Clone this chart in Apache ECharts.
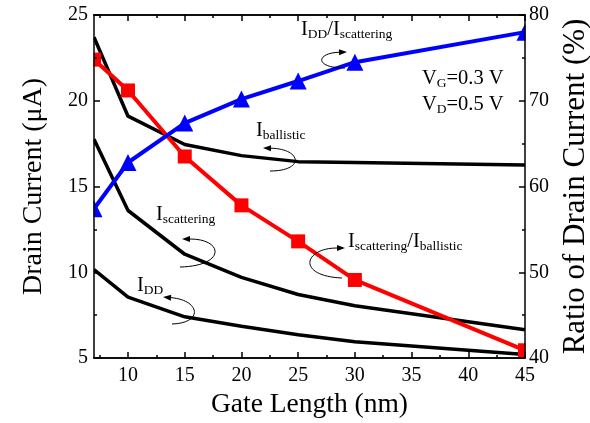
<!DOCTYPE html>
<html>
<head>
<meta charset="utf-8">
<script src="https://cdn.jsdelivr.net/npm/echarts@6/dist/echarts.min.js"></script>
<style>
  html, body { margin: 0; padding: 0; background: #fff; }
  #chart { width: 590px; height: 423px; }
</style>
</head>
<body>
<div id="chart"></div>
<script>
  // 数据
  var gateLength = [7, 10, 15, 20, 25, 30, 45];
  var iBallistic = [23.7, 19.1, 17.45, 16.8, 16.45, 16.4, 16.25];
  var iScattering = [17.75, 13.6, 11.05, 9.7, 8.7, 8.05, 6.65];
  var iDD = [10.15, 8.55, 7.4, 6.85, 6.35, 5.95, 5.2];
  var ratioScatBall = [74.8, 71.2, 63.5, 57.8, 53.6, 49.1, 40.9];
  var ratioDDScat = [57.4, 62.8, 67.4, 70.2, 72.3, 74.5, 78.0];

  var xMajor = [10, 15, 20, 25, 30, 35, 40, 45];
  var xMinor = [7.5, 12.5, 17.5, 22.5, 27.5, 32.5, 37.5, 42.5];

  var FONT = 'Liberation Serif';

  function pairs(xs, ys) {
      var out = [];
      for (var i = 0; i < xs.length; i++) out.push([xs[i], ys[i]]);
      return out;
  }

  function xAxisDef(pos, ticks, len, labels, name) {
      return {
          type: 'value', position: pos, min: 7, max: 45, zlevel: 2,
          name: name || '', nameLocation: 'middle', nameGap: 31,
          nameTextStyle: { fontFamily: FONT, fontSize: 27.5, color: '#000' },
          axisLine: { show: true, onZero: false, lineStyle: { color: '#000', width: 1.5 } },
          axisTick: { show: true, inside: true, length: len, customValues: ticks, lineStyle: { color: '#000', width: 1.5 } },
          axisLabel: { show: labels, customValues: ticks, margin: 8, fontFamily: FONT, fontSize: 20, color: '#000' },
          splitLine: { show: false }
      };
  }

  // 带下标的标注文字
  var mainSt = { fontFamily: FONT, fontSize: 20.5, color: '#000', lineHeight: 22 };
  var subSt = { fontFamily: FONT, fontSize: 13.5, color: '#000', lineHeight: 14, verticalAlign: 'bottom' };
  function label(x, y, text) {
      return {
          type: 'text', x: x, y: y, z: 20,
          style: { text: text, rich: { m: mainSt, s: subSt }, fill: '#000' }
      };
  }

  // 弯曲箭头
  function curl(p0, c1, c2, p1) {
      var dx = p1[0] - c2[0], dy = p1[1] - c2[1];
      var d = Math.sqrt(dx * dx + dy * dy);
      var ux = dx / d, uy = dy / d;
      var L = 8, W = 3;
      var bx = p1[0] - ux * L, by = p1[1] - uy * L;
      return [{
          type: 'bezierCurve', z: 20,
          shape: { x1: p0[0], y1: p0[1], cpx1: c1[0], cpy1: c1[1], cpx2: c2[0], cpy2: c2[1], x2: bx, y2: by },
          style: { stroke: '#000', lineWidth: 1, fill: null }
      }, {
          type: 'polygon', z: 20,
          shape: { points: [[p1[0], p1[1]], [bx - uy * W, by + ux * W], [bx + uy * W, by - ux * W]] },
          style: { fill: '#000' }
      }];
  }

  var graphics = [
      // 遮住超出坐标区的标记
      { type: 'rect', zlevel: 1, shape: { x: 78, y: 0, width: 15.5, height: 423 }, style: { fill: '#fff' } },
      { type: 'rect', zlevel: 1, shape: { x: 525.5, y: 0, width: 14, height: 423 }, style: { fill: '#fff' } },
      label(256, 120, '{m|I}{s|ballistic}'),
      label(156, 204, '{m|I}{s|scattering}'),
      label(137, 275, '{m|I}{s|DD}'),
      label(301, 19, '{m|I}{s|DD}{m|/I}{s|scattering}'),
      label(348, 231, '{m|I}{s|scattering}{m|/I}{s|ballistic}'),
      label(422, 68, '{m|V}{s|G}{m|=0.3 V}'),
      label(422, 94, '{m|V}{s|D}{m|=0.5 V}')
  ];
  graphics = graphics
      .concat(curl([270, 171], [305, 171], [302, 149], [263, 148]))
      .concat(curl([180, 267], [226, 266], [224, 239], [182, 239]))
      .concat(curl([172, 324], [204, 323], [200, 300], [163, 297]))
      .concat(curl([345, 68], [314, 68], [316, 53], [347, 52]))
      .concat(curl([342, 278], [296, 276], [304, 248], [345, 248]));

  var myChart = echarts.init(document.getElementById('chart'));
  var option = {
      backgroundColor: '#fff',
      animation: false,
      grid: { left: 94, right: 65, top: 15, bottom: 65, containLabel: false, outerBoundsMode: 'none' },
      xAxis: [
          xAxisDef('bottom', xMajor, 6, true, 'Gate Length (nm)'),
          xAxisDef('bottom', xMinor, 3, false),
          xAxisDef('top', xMajor, 6, false),
          xAxisDef('top', xMinor, 3, false)
      ],
      yAxis: [{
          type: 'value', position: 'left', min: 5, max: 25, interval: 5, zlevel: 2,
          name: 'Drain Current (\u03bcA)', nameLocation: 'middle', nameGap: 46, nameRotate: 90,
          nameTextStyle: { fontFamily: FONT, fontSize: 28, color: '#000' },
          axisLine: { show: true, lineStyle: { color: '#000', width: 1.5 } },
          axisTick: { show: true, inside: true, length: 6, lineStyle: { color: '#000', width: 1.5 } },
          minorTick: { show: true, splitNumber: 2, length: 3, lineStyle: { color: '#000', width: 1.5 } },
          axisLabel: { margin: 6, fontFamily: FONT, fontSize: 20, color: '#000' },
          splitLine: { show: false }
      }, {
          type: 'value', position: 'right', min: 40, max: 80, interval: 10, zlevel: 2,
          name: 'Ratio of Drain Current (%)', nameLocation: 'middle', nameGap: 20, nameRotate: 90,
          nameTextStyle: { fontFamily: FONT, fontSize: 31, color: '#000' },
          axisLine: { show: true, lineStyle: { color: '#000', width: 1.5 } },
          axisTick: { show: true, inside: true, length: 6, lineStyle: { color: '#000', width: 1.5 } },
          minorTick: { show: true, splitNumber: 2, length: 3, lineStyle: { color: '#000', width: 1.5 } },
          axisLabel: { margin: 4, fontFamily: FONT, fontSize: 20, color: '#000' },
          splitLine: { show: false }
      }],
      series: [{
          name: 'I_ballistic', type: 'line', data: pairs(gateLength, iBallistic),
          symbol: 'none', lineStyle: { color: '#000', width: 3.5 }
      }, {
          name: 'I_scattering', type: 'line', data: pairs(gateLength, iScattering),
          symbol: 'none', lineStyle: { color: '#000', width: 3.5 }
      }, {
          name: 'I_DD', type: 'line', data: pairs(gateLength, iDD),
          symbol: 'none', lineStyle: { color: '#000', width: 3.5 }
      }, {
          name: 'I_scattering/I_ballistic', type: 'line', yAxisIndex: 1,
          data: pairs(gateLength, ratioScatBall),
          symbol: 'rect', symbolSize: 14,
          itemStyle: { color: '#ff0000' }, lineStyle: { color: '#ff0000', width: 4 }
      }, {
          name: 'I_DD/I_scattering', type: 'line', yAxisIndex: 1,
          data: pairs(gateLength, ratioDDScat),
          symbol: 'triangle', symbolSize: 17,
          itemStyle: { color: '#0000ff' }, lineStyle: { color: '#0000ff', width: 4 }
      }],
      graphic: graphics
  };
  myChart.setOption(option);
</script>
</body>
</html>
